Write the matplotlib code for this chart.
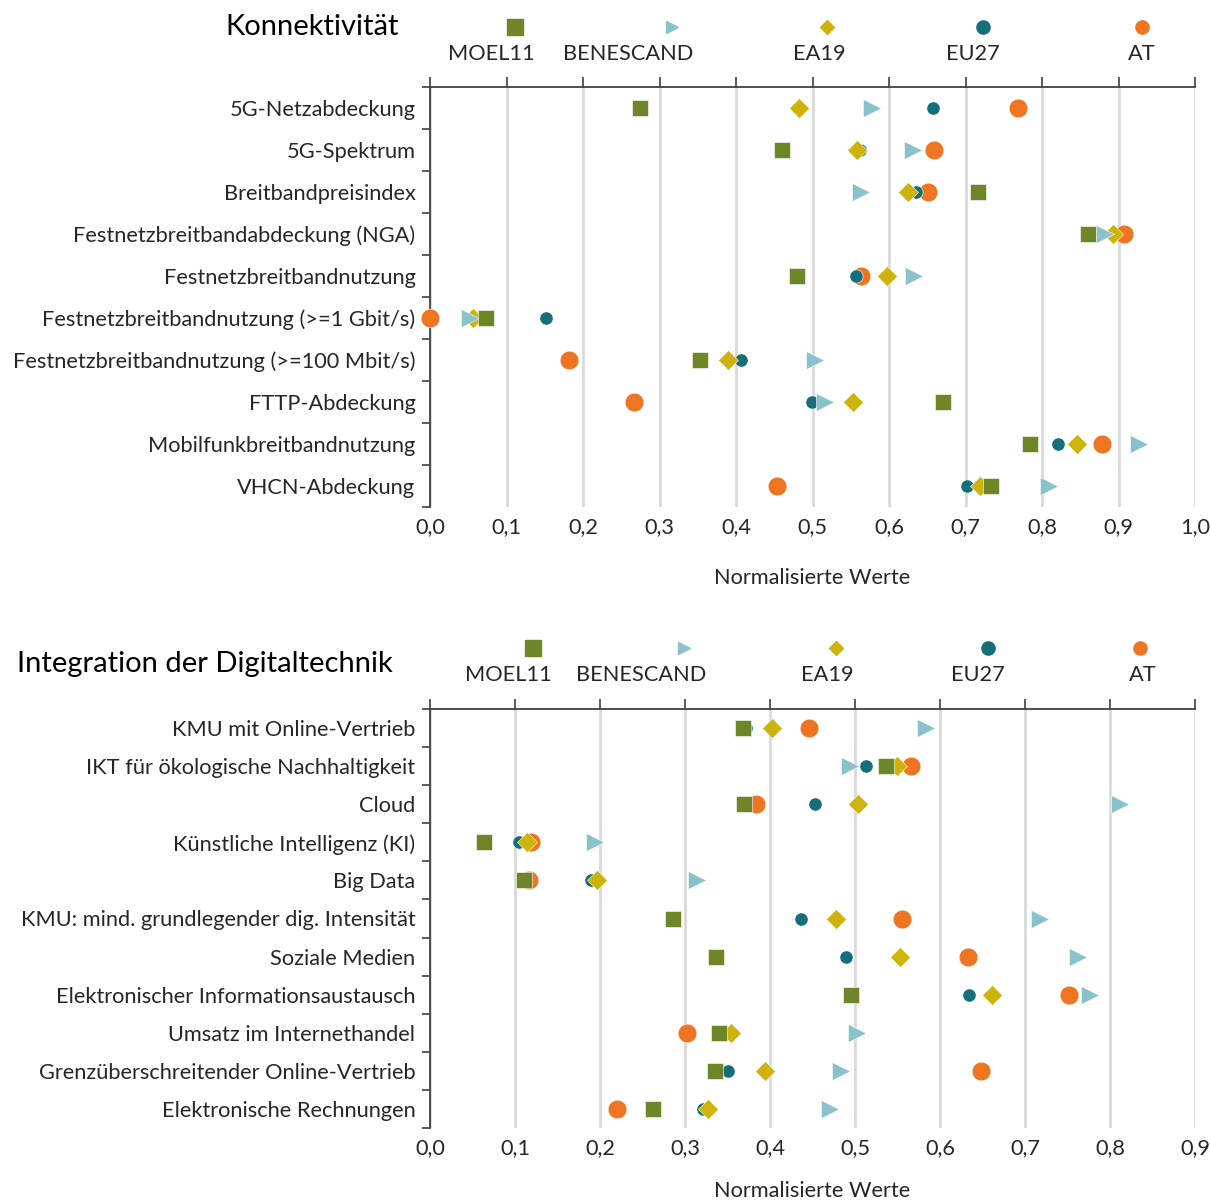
import numpy as np
import matplotlib.pyplot as plt
from matplotlib.lines import Line2D
from matplotlib.ticker import FixedLocator, FuncFormatter

plt.rcParams['font.family'] = ['Lato', 'DejaVu Sans']

#--- data: Konnektivität
kon_cats = ['5G-Netzabdeckung', '5G-Spektrum', 'Breitbandpreisindex',
            'Festnetzbreitbandabdeckung (NGA)', 'Festnetzbreitbandnutzung',
            'Festnetzbreitbandnutzung (>=1 Gbit/s)', 'Festnetzbreitbandnutzung (>=100 Mbit/s)',
            'FTTP-Abdeckung', 'Mobilfunkbreitbandnutzung', 'VHCN-Abdeckung']
kon_moel = [0.275, 0.460, 0.716, 0.860, 0.480, 0.073, 0.353, 0.671, 0.784, 0.733]
kon_benescand = [0.578, 0.631, 0.564, 0.882, 0.633, 0.052, 0.503, 0.516, 0.927, 0.809]
kon_ea19 = [0.482, 0.558, 0.625, 0.893, 0.597, 0.056, 0.390, 0.553, 0.846, 0.719]
kon_eu27 = [0.658, 0.562, 0.635, 0.893, 0.557, 0.152, 0.406, 0.499, 0.821, 0.702]
kon_at = [0.768, 0.659, 0.651, 0.907, 0.564, 0.000, 0.182, 0.267, 0.879, 0.454]

#--- data: Integration der Digitaltechnik
dig_cats = ['KMU mit Online-Vertrieb', 'IKT für ökologische Nachhaltigkeit', 'Cloud',
            'Künstliche Intelligenz (KI)', 'Big Data',
            'KMU: mind. grundlegender dig. Intensität', 'Soziale Medien',
            'Elektronischer Informationsaustausch', 'Umsatz im Internethandel',
            'Grenzüberschreitender Online-Vertrieb', 'Elektronische Rechnungen']
dig_moel = [0.368, 0.536, 0.369, 0.064, 0.111, 0.286, 0.337, 0.495, 0.340, 0.335, 0.262]
dig_benescand = [0.583, 0.494, 0.812, 0.194, 0.314, 0.718, 0.762, 0.776, 0.502, 0.484, 0.471]
dig_ea19 = [0.402, 0.549, 0.504, 0.114, 0.196, 0.478, 0.553, 0.661, 0.354, 0.394, 0.327]
dig_eu27 = [0.372, 0.513, 0.453, 0.105, 0.189, 0.436, 0.489, 0.634, 0.345, 0.350, 0.321]
dig_at = [0.446, 0.566, 0.384, 0.119, 0.117, 0.555, 0.633, 0.752, 0.302, 0.648, 0.220]

names = ['MOEL11', 'BENESCAND', 'EA19', 'EU27', 'AT']
colors = {'MOEL11': '#6e8628', 'BENESCAND': '#8ac2cb', 'EA19': '#cdb30c',
          'EU27': '#146f7a', 'AT': '#ee7623'}
markers = {'MOEL11': 's', 'BENESCAND': '>', 'EA19': 'D', 'EU27': 'o', 'AT': 'o'}
msizes = {'MOEL11': 11.5, 'BENESCAND': 13, 'EA19': 10.5, 'EU27': 9.5, 'AT': 13.5}
leg_sizes = {'MOEL11': 11, 'BENESCAND': 8, 'EA19': 7, 'EU27': 9.5, 'AT': 9.5}
draw_order = ['AT', 'EU27', 'EA19', 'BENESCAND', 'MOEL11']

fig = plt.figure(figsize=(12.1, 12), dpi=100)
W, H = 1210, 1200
spine_col = '#404040'
txt_col = '#262626'
fs = 15.7


def panel(rect, cats, series, xmax, title, title_xy, leg_mk_x, leg_lab_x, leg_y, labelpad):
    ax = fig.add_axes(rect)
    n = len(cats)
    y = np.arange(n)
    for name in draw_order:
        ax.plot(series[name], y, linestyle='none', marker=markers[name],
                ms=msizes[name], color=colors[name], mec='white', mew=0.4,
                clip_on=False, zorder=3)
    ax.set_ylim(n - 0.5, -0.5)
    ax.set_xlim(0, xmax)
    ticks = np.round(np.arange(0, xmax + 0.001, 0.1), 1)
    ax.set_xticks(ticks)
    ax.xaxis.set_major_formatter(FuncFormatter(lambda v, p: f'{v:.1f}'.replace('.', ',')))
    ax.set_yticks(y)
    ax.set_yticklabels(cats)
    ax.yaxis.set_minor_locator(FixedLocator(np.arange(-0.5, n, 1.0)))
    ax.tick_params(axis='y', which='major', length=0, pad=10.5, labelsize=fs, colors=txt_col)
    ax.tick_params(axis='y', which='minor', length=6, width=1.2, color=spine_col)
    ax.tick_params(axis='x', which='major', bottom=False, top=True, labelbottom=True,
                   direction='out', length=7, width=1.2, color=spine_col,
                   pad=0.5, labelsize=fs, labelcolor=txt_col)
    ax.grid(axis='x', color='#d9d9d9', lw=2, zorder=0)
    ax.set_axisbelow(True)
    for s in ['right', 'bottom']:
        ax.spines[s].set_visible(False)
    for s in ['top', 'left']:
        ax.spines[s].set_color(spine_col)
        ax.spines[s].set_linewidth(1.3)
    ax.set_xlabel('Normalisierte Werte', fontsize=fs, color=txt_col, labelpad=labelpad)
    fig.text(title_xy[0] / W, 1 - title_xy[1] / H, title, fontsize=21,
             ha='left', va='center', color='black')
    for name, mx, lx in zip(names, leg_mk_x, leg_lab_x):
        fig.add_artist(Line2D([mx / W], [1 - leg_y / H], marker=markers[name],
                              ms=leg_sizes[name], color=colors[name], linestyle='none',
                              transform=fig.transFigure))
        fig.text(lx / W, 1 - (leg_y + 27) / H, name, fontsize=fs, ha='center',
                 va='center', color=txt_col)
    return ax


kon = {'MOEL11': kon_moel, 'BENESCAND': kon_benescand, 'EA19': kon_ea19,
       'EU27': kon_eu27, 'AT': kon_at}
dig = {'MOEL11': dig_moel, 'BENESCAND': dig_benescand, 'EA19': dig_ea19,
       'EU27': dig_eu27, 'AT': dig_at}

panel([430 / W, 1 - 507 / H, 765 / W, 420 / H], kon_cats, kon, 1.0,
      'Konnektivität', (225, 27),
      [515, 672, 827, 983, 1142], [491, 628, 819, 973, 1142], 27, 22)
panel([430 / W, 1 - 1128 / H, 765 / W, 419 / H], dig_cats, dig, 0.9,
      'Integration der Digitaltechnik', (17, 664),
      [533, 684, 836, 988, 1140], [508, 641, 827, 978, 1143], 648, 16)

fig.savefig('out.png', dpi=100)
